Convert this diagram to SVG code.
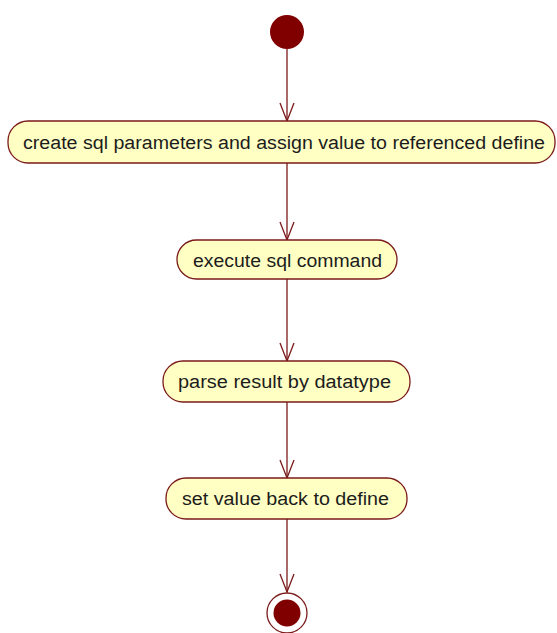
<svg xmlns="http://www.w3.org/2000/svg" width="557" height="633" viewBox="0 0 557 633">
  <style>
    .action rect { fill: #ffffc4; stroke: #7b1a1a; stroke-width: 1.3; }
    .action text { font-family: "Liberation Sans", "DejaVu Sans", sans-serif; font-size: 18px; fill: #1c1c1c; text-anchor: middle; }
    .flow { stroke: #7b1a1a; stroke-width: 1.3; fill: none; marker-end: url(#open-arrow); }
  </style>
  <defs>
    <marker id="open-arrow" markerUnits="userSpaceOnUse" markerWidth="24" markerHeight="24" viewBox="-20 -10 24 20" refX="0" refY="0" orient="auto">
      <path d="M-18,-7 L0,0 L-18,7" fill="none" stroke="#7b1a1a" stroke-width="1.3"/>
    </marker>
  </defs>
  <rect width="557" height="633" fill="#ffffff"/>

  <g id="connectors">
    <path class="flow" d="M287,49 L287,121"/>
    <path class="flow" d="M287,163 L287,240"/>
    <path class="flow" d="M287,279 L287,361"/>
    <path class="flow" d="M287,402 L287,478"/>
    <path class="flow" d="M287,519 L287,592"/>
  </g>

  <g id="start">
    <circle cx="287" cy="32" r="17" fill="#800000"/>
  </g>

  <g id="create-params" class="action">
    <rect x="8" y="121" width="547" height="42" rx="20" ry="20"/>
    <text x="284" y="149" textLength="522" lengthAdjust="spacingAndGlyphs">create sql parameters and assign value to referenced define</text>
  </g>

  <g id="execute-command" class="action">
    <rect x="177" y="240" width="220" height="39" rx="19.5" ry="19.5"/>
    <text x="287.5" y="267" textLength="189" lengthAdjust="spacingAndGlyphs">execute sql command</text>
  </g>

  <g id="parse-result" class="action">
    <rect x="163" y="361" width="247" height="41" rx="20" ry="20"/>
    <text x="284.5" y="388" textLength="213" lengthAdjust="spacingAndGlyphs">parse result by datatype</text>
  </g>

  <g id="set-value" class="action">
    <rect x="166" y="478" width="241" height="41" rx="20" ry="20"/>
    <text x="285.5" y="505" textLength="207" lengthAdjust="spacingAndGlyphs">set value back to define</text>
  </g>

  <g id="end">
    <circle cx="287" cy="613" r="20" fill="#ffffff" stroke="#7b1a1a" stroke-width="1.3"/>
    <circle cx="287" cy="613" r="13.5" fill="#800000"/>
  </g>
</svg>
